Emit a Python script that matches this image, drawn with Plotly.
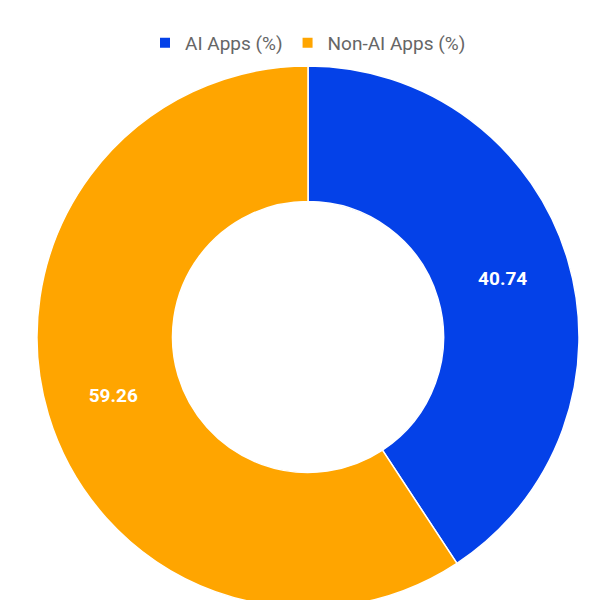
import plotly.graph_objects as go

labels = ["AI Apps (%)", "Non-AI Apps (%)"]
values = [40.74, 59.26]
colors = ["#0441E8", "#FFA500"]

fig = go.Figure(go.Pie(
    labels=labels, values=values, hole=0.5, sort=False,
    direction="clockwise", rotation=0,
    domain=dict(x=[29/600, 571/600], y=[0.0, 1 - 58/600]),
    marker=dict(colors=colors, line=dict(color="white", width=1.5)),
    textinfo="value", texttemplate="<b>%{value:.2f}</b>", textposition="inside",
    insidetextorientation="horizontal",
    textfont=dict(color="white", size=19, family="Roboto"),
    hoverinfo="label+value",
))
fig.update_layout(
    width=600, height=600, paper_bgcolor="white",
    margin=dict(l=0, r=0, t=0, b=0),
    font=dict(family="Roboto", color="#666"),
    legend=dict(orientation="h", x=0.5, xanchor="center", y=1 - 16/600, yanchor="top",
                font=dict(size=19, color="#666"), itemsizing="constant"),
)
fig.write_html("out.html")
